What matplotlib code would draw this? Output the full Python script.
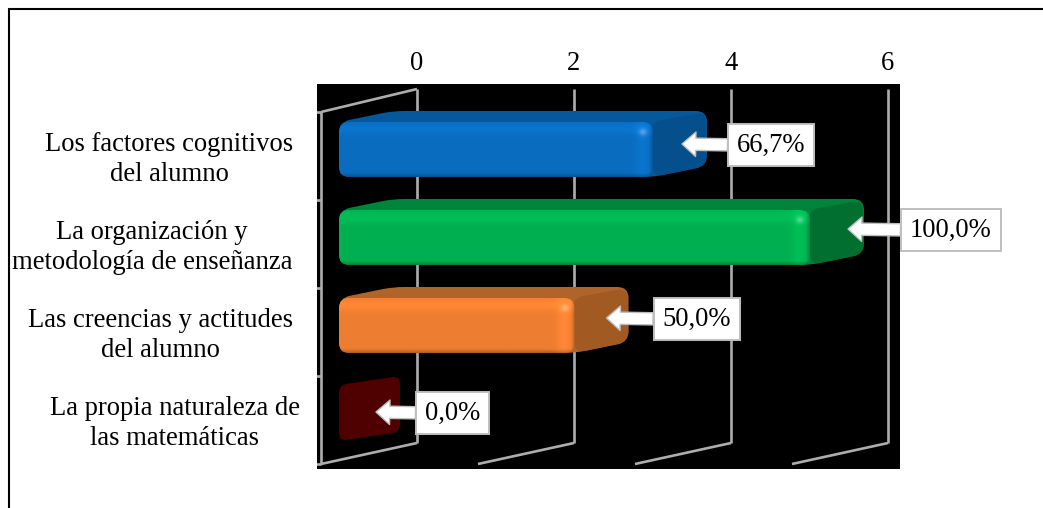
import numpy as np
import matplotlib
matplotlib.use("Agg")
import matplotlib.pyplot as plt
from matplotlib.patches import PathPatch
from matplotlib.path import Path
from matplotlib.lines import Line2D

# Chart data
categories = [
    "Los factores cognitivos\ndel alumno",
    "La organización y\nmetodología de enseñanza",
    "Las creencias y actitudes\ndel alumno",
    "La propia naturaleza de\nlas matemáticas",
]
counts = [4, 6, 3, 0]
total = 6
x_ticks = [0, 2, 4, 6]

# Bar colours: front face, top face, side face
face_colors = ["#0a6cbf", "#00b050", "#ed7d31", "#4f0000"]
top_colors = ["#05589c", "#00843b", "#b0642a", "#4f0000"]
side_colors = ["#054f8c", "#006f30", "#a05a22", "#4f0000"]

WIDTH, HEIGHT = 1043, 508
FONT = "Liberation Serif"
FS = 19.2
GRID = "#adadad"

# Plot area in figure pixels and the size of one unit on each axis
LEFT, RIGHT, TOP, BOTTOM = 317, 900, 84, 469
PX_X = 78.5
PX_Y = 88.0
ORIGIN_X, ORIGIN_Y = 417.0, 149.5  # x=0 on the rear wall, centre of the first bar


def U(px):
    return px / PX_X


def V(px):
    return px / PX_Y


def rounded_path(points, radius_px):
    """Closed path through data-space points with corners softened by a pixel radius."""
    scale = np.array([PX_X, PX_Y])
    pts = np.asarray(points, float) * scale
    n = len(pts)
    verts, codes = [], []
    for i in range(n):
        prev_pt, cur, next_pt = pts[i - 1], pts[i], pts[(i + 1) % n]
        a, b = prev_pt - cur, next_pt - cur
        la, lb = np.hypot(*a), np.hypot(*b)
        ra = min(radius_px, la / 2)
        rb = min(radius_px, lb / 2)
        p_in = cur + a / la * ra
        p_out = cur + b / lb * rb
        verts += [p_in, cur, p_out]
        codes += [Path.MOVETO if i == 0 else Path.LINETO, Path.CURVE3, Path.CURVE3]
    verts.append(verts[0])
    codes.append(Path.CLOSEPOLY)
    return Path(np.array(verts) / scale, codes)


def shaded_face(rgb, w_px, h_px):
    """Front-face shading: soft bevel bands along the top, bottom and right edges."""
    h, w = int(h_px), max(int(w_px), 2)
    yy, xx = np.mgrid[0:h, 0:w]
    yf = yy + 0.5
    xf = xx + 0.5
    shade = np.ones((h, w))
    shade += 0.08 * np.exp(-(((yf - 7) / 6.0) ** 2))
    shade -= 0.30 * np.clip((yf - (h - 5)) / 5.0, 0, 1) ** 1.5
    band = np.exp(-(((xf - (w - 11)) / 7.0) ** 2))
    shade += 0.08 * band
    shade -= 0.22 * np.clip((xf - (w - 4)) / 4.0, 0, 1)
    img = np.clip(np.array(rgb)[None, None, :] * shade[..., None], 0, 1)
    spot = 0.3 * np.exp(-(((xf - (w - 10)) / 4.0) ** 2 + ((yf - 10) / 3.5) ** 2))
    return img + (1 - img) * spot[..., None]


plt.rcParams["font.family"] = [FONT, "DejaVu Serif"]
fig = plt.figure(figsize=(WIDTH / 100, HEIGHT / 100), dpi=100)
ax = fig.add_axes([LEFT / WIDTH, 1 - BOTTOM / HEIGHT, (RIGHT - LEFT) / WIDTH, (BOTTOM - TOP) / HEIGHT])
ax.set_facecolor("black")
xlim = ((LEFT - ORIGIN_X) / PX_X, (RIGHT - ORIGIN_X) / PX_X)
ylim = ((BOTTOM - ORIGIN_Y) / PX_Y, (TOP - ORIGIN_Y) / PX_Y)
ax.set_xlim(xlim)
ax.set_ylim(ylim)
for spine in ax.spines.values():
    spine.set_visible(False)
ax.set_yticks([])
ax.xaxis.tick_top()
ax.set_xticks(x_ticks)
ax.set_xticklabels([str(t) for t in x_ticks], fontsize=FS, family=FONT)
ax.tick_params(axis="x", length=0, pad=6)

# Wall and floor frame: rear wall is offset from the front plane
WALL_DX = U(96)
WALL_TOP_BACK = V(89 - ORIGIN_Y)
WALL_BOTTOM_BACK = V(443 - ORIGIN_Y)
WALL_TOP_FRONT = V(112 - ORIGIN_Y)
WALL_BOTTOM_FRONT = V(464 - ORIGIN_Y)
line_kw = dict(color=GRID, lw=1.9, zorder=1, solid_capstyle="butt")
for t in x_ticks:
    ax.plot([t, t], [WALL_TOP_BACK, WALL_BOTTOM_BACK], **line_kw)
    ax.plot([t - WALL_DX, t], [WALL_BOTTOM_FRONT, WALL_BOTTOM_BACK], **line_kw)
ax.plot([-WALL_DX, -WALL_DX], [WALL_TOP_FRONT, WALL_BOTTOM_FRONT], **line_kw)
ax.plot([-WALL_DX, 0], [WALL_TOP_FRONT, WALL_TOP_BACK], **line_kw)
for i in range(len(categories) + 1):
    tick_y = WALL_TOP_FRONT + i
    ax.plot([-WALL_DX - U(5), -WALL_DX], [tick_y, tick_y], **line_kw)

# Bars: a rounded silhouette for the top and side, then the shaded front face
BAR_LEFT = U(339 - ORIGIN_X)
BAR_H = V(55)
DEPTH_X, DEPTH_Y = U(54), V(11)
for i, (count, face, top, side) in enumerate(zip(counts, face_colors, top_colors, side_colors)):
    y0, y1 = i - BAR_H / 2, i + BAR_H / 2
    x1 = BAR_LEFT + count
    if count == 0:
        # An empty bar still shows its end cap as a small sheared block
        x_end = x1 + DEPTH_X + U(7)
        y_top = y0 - V(1)
        cap = [(BAR_LEFT, y1), (BAR_LEFT, y_top), (x_end, y_top - V(9)), (x_end, y1 - V(9))]
        ax.add_patch(PathPatch(rounded_path(cap, 8), fc=face, ec="none", zorder=2))
        continue
    outline = [(BAR_LEFT, y1), (BAR_LEFT, y0), (BAR_LEFT + DEPTH_X, y0 - DEPTH_Y),
               (x1 + DEPTH_X, y0 - DEPTH_Y), (x1 + DEPTH_X, y1 - DEPTH_Y), (x1, y1)]
    ax.add_patch(PathPatch(rounded_path(outline, 11), fc=top, ec="none", zorder=2))
    side_poly = [(x1 - U(2), y0), (x1 + DEPTH_X - U(1), y0 - DEPTH_Y + V(1)),
                 (x1 + DEPTH_X, y1 - DEPTH_Y), (x1, y1)]
    ax.add_patch(PathPatch(rounded_path(side_poly, 11), fc=side, ec="none", zorder=2.1))

    front = [(BAR_LEFT, y0), (x1, y0), (x1, y1), (BAR_LEFT, y1)]
    clip = PathPatch(rounded_path(front, 10), fc="none", ec="none", transform=ax.transData)
    ax.add_patch(clip)
    rgb = matplotlib.colors.to_rgb(face)
    img = ax.imshow(shaded_face(rgb, count * PX_X, 55), extent=(BAR_LEFT, x1, y1, y0),
                    aspect="auto", zorder=2.2, interpolation="bilinear")
    img.set_clip_path(clip)

ax.set_xlim(xlim)
ax.set_ylim(ylim)

# Percentage call-outs pointing at each bar's end
tip_back = [25, 16, 22, 24]
tip_rise = [-5.5, -8.5, -7.5, -1.5]
text_dx = [55, 62, 56, 49]
for i, count in enumerate(counts):
    label = f"{100 * count / total:.1f}%".replace(".", ",")
    end = BAR_LEFT + count + DEPTH_X + (U(7) if count == 0 else 0)
    tip = end - U(tip_back[i])
    ax.annotate(
        label,
        xy=(tip, i + V(tip_rise[i])),
        xytext=(text_dx[i], -1),
        textcoords="offset pixels",
        ha="left",
        va="center",
        fontsize=FS,
        family=FONT,
        color="black",
        zorder=6,
        annotation_clip=False,
        bbox=dict(boxstyle="square,pad=0.33", fc="white", ec="#bfbfbf", lw=1.4),
        arrowprops=dict(
            arrowstyle="simple,head_length=0.62,head_width=1.1,tail_width=0.55",
            fc="white", ec="#bfbfbf", lw=1.0, shrinkA=0, shrinkB=0, mutation_scale=16,
            relpos=(0, 0.5),
        ),
    )

# Category labels, right-aligned as blocks with centred lines
label_right = [293, 292, 293, 300]
for i, cat in enumerate(categories):
    fig.text(label_right[i] / WIDTH, 1 - (159.5 + PX_Y * i) / HEIGHT, cat, ha="right", va="center",
             ma="center", fontsize=FS, family=FONT, color="black", linespacing=1.29)

# Outer frame runs off the right and bottom of the canvas
fig.add_artist(Line2D([9 / WIDTH, 9 / WIDTH, 1], [0, 1 - 9 / HEIGHT, 1 - 9 / HEIGHT],
                      color="black", lw=1.5, solid_joinstyle="miter"))

fig.savefig("out.png", dpi=100, facecolor="white")
